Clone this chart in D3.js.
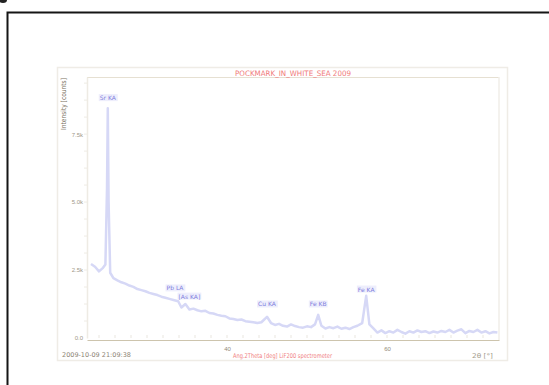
<!DOCTYPE html>
<html>
<head>
<meta charset="utf-8">
<script src="https://cdn.jsdelivr.net/npm/d3@7"></script>
<style>
  html, body { margin: 0; padding: 0; background: #fff; }
  svg { display: block; font-family: "DejaVu Sans", sans-serif; }
</style>
</head>
<body>
<svg id="chart" width="549" height="385"></svg>
<script>
// 2-theta positions (deg) and intensities (kcounts)
const twoTheta = [23.0, 23.5, 24.0, 24.5, 24.8, 25.0, 25.1, 25.2, 25.4, 25.8, 26.3, 26.8, 27.3, 27.8, 28.3, 28.8,
  29.3, 29.8, 30.3, 30.8, 31.3, 31.8, 32.3, 32.8, 33.3, 33.9, 34.3, 34.8, 35.3, 35.8, 36.3, 36.8,
  37.3, 37.8, 38.3, 38.8, 39.3, 39.8, 40.3, 40.8, 41.3, 41.8, 42.3, 42.8, 43.3, 43.8, 44.3, 45.0,
  45.5, 46.0, 46.5, 47.0, 47.5, 48.0, 48.5, 49.0, 49.5, 50.0, 50.5, 51.0, 51.4, 51.8, 52.3, 52.8,
  53.3, 53.8, 54.3, 54.8, 55.3, 55.8, 56.3, 56.9, 57.4, 57.8, 58.3, 58.8, 59.3, 59.8, 60.3, 60.8,
  61.3, 61.8, 62.3, 62.8, 63.3, 63.8, 64.3, 64.8, 65.3, 65.8, 66.3, 66.8, 67.3, 67.8, 68.3, 68.8,
  69.3, 69.8, 70.3, 70.8, 71.3, 71.8, 72.3, 72.8, 73.3, 73.8];
const counts = [2.72, 2.62, 2.45, 2.58, 2.70, 5.5, 8.45, 5.0, 2.40, 2.20, 2.12, 2.05, 2.00, 1.93, 1.88, 1.80,
  1.76, 1.72, 1.66, 1.62, 1.58, 1.52, 1.48, 1.44, 1.40, 1.35, 1.12, 1.25, 1.05, 1.08, 1.02, 0.98,
  1.00, 0.92, 0.90, 0.85, 0.82, 0.80, 0.72, 0.70, 0.66, 0.68, 0.62, 0.60, 0.58, 0.55, 0.58, 0.78,
  0.55, 0.48, 0.52, 0.45, 0.42, 0.50, 0.44, 0.40, 0.38, 0.43, 0.40, 0.50, 0.85, 0.45, 0.35, 0.40,
  0.36, 0.42, 0.34, 0.38, 0.33, 0.40, 0.45, 0.55, 1.55, 0.50, 0.35, 0.20, 0.28, 0.18, 0.25, 0.20,
  0.30, 0.22, 0.16, 0.25, 0.20, 0.28, 0.22, 0.25, 0.18, 0.24, 0.20, 0.26, 0.22, 0.30, 0.20, 0.27,
  0.32, 0.18, 0.26, 0.22, 0.30, 0.20, 0.25, 0.17, 0.22, 0.20];

// peak labels: text, 2theta, level (kcounts) of label
const peakNames = ["Sr KA", "Pb LA", "[As KA]", "Cu KA", "Fe KB", "Fe KA"];
const peakPos = [25.1, 33.5, 35.3, 45.0, 51.4, 57.4];
const peakLevel = [8.75, 1.75, 1.45, 1.16, 1.16, 1.71];

const xTicks = [40, 60];
const yTicks = [0, 2.5, 5, 7.5];
const yTickLabels = ["0.0", "2.5k", "5.0k", "7.5k"];

const titleText = "POCKMARK_IN_WHITE_SEA 2009";
const xTitle = "Ang.2Theta [deg] LiF200 spectrometer";
const yTitle = "Intensity [counts]";
const stamp = "2009-10-09 21:09:38";
const unitText = "2\u03b8 [\u00b0]";

const svg = d3.select('#chart');

// outer black frame and stray mark top-left
svg.append('ellipse').attr('cx', 3).attr('cy', 0).attr('rx', 4).attr('ry', 3).attr('fill', '#222');
svg.append('path').attr('d', 'M7.5,385 V12.5 H549').attr('fill', 'none')
  .attr('stroke', '#151515').attr('stroke-width', 2);

// pale panel
svg.append('rect').attr('x', 57.5).attr('y', 67.5).attr('width', 450).attr('height', 293)
  .attr('fill', 'none').attr('stroke', '#efece6').attr('stroke-width', 1.5);

const x = d3.scaleLinear().domain([22.5, 74]).range([87, 499]);
const y = d3.scaleLinear().domain([0, 9.6]).range([338, 77]);

// plot frame lines
const g = svg.append('g');
g.append('line').attr('x1', 87).attr('x2', 499).attr('y1', 77.5).attr('y2', 77.5)
  .attr('stroke', '#e6e0d2').attr('stroke-width', 1.2);
g.append('line').attr('x1', 499).attr('x2', 499).attr('y1', 77).attr('y2', 340)
  .attr('stroke', '#f1eee8').attr('stroke-width', 1.5);

// minor x ticks
g.selectAll('line.mx').data(d3.range(24, 74, 2)).join('line').attr('class', 'mx')
  .attr('x1', d => x(d)).attr('x2', d => x(d)).attr('y1', 335).attr('y2', 338)
  .attr('stroke', '#e9e6df');

// y minor ticks
g.selectAll('line.my').data(d3.range(0.625, 9.6, 0.625)).join('line').attr('class', 'my')
  .attr('x1', 84).attr('x2', 87).attr('y1', d => y(d)).attr('y2', d => y(d))
  .attr('stroke', '#eeebe4');

// axes
const xAxis = d3.axisBottom(x).tickValues(xTicks).tickSize(0).tickPadding(7).tickFormat(d3.format('d'));
const gx = svg.append('g').attr('transform', 'translate(0,340)').call(xAxis);
gx.select('.domain').attr('stroke', '#cdc4ad').attr('stroke-width', 1.2);
gx.selectAll('text').attr('fill', '#8f8878').style('font-size', '6px');

const yAxis = d3.axisLeft(y).tickValues(yTicks).tickSize(0).tickPadding(4)
  .tickFormat((d, i) => yTickLabels[i]);
const gy = svg.append('g').attr('transform', 'translate(87,0)').call(yAxis);
gy.select('.domain').attr('stroke', '#eeebe4').attr('stroke-width', 1.5);
gy.selectAll('text').attr('fill', '#a09888').style('font-size', '6px');

// spectrum
const line = d3.line().x((d, i) => x(twoTheta[i])).y(d => y(d));
svg.append('path').datum(counts).attr('d', line).attr('fill', 'none')
  .attr('stroke', '#d6d8f6').attr('stroke-width', 2.5).attr('stroke-linejoin', 'round');

// peak labels with pale highlight
const lab = svg.selectAll('g.peak').data(peakNames).join('g').attr('class', 'peak')
  .attr('transform', (d, i) => `translate(${x(peakPos[i])},${y(peakLevel[i])})`);
lab.append('text').attr('text-anchor', 'middle').attr('fill', '#7f80dc').style('font-size', '6px')
  .text(d => d);
lab.each(function () {
  const t = d3.select(this).select('text');
  const b = t.node().getBBox();
  d3.select(this).insert('rect', 'text').attr('x', b.x - 1).attr('y', b.y)
    .attr('width', b.width + 2).attr('height', b.height).attr('fill', '#eeeefc');
});

// texts
svg.append('text').attr('x', 235).attr('y', 76).attr('textLength', 116)
  .attr('lengthAdjust', 'spacingAndGlyphs').attr('fill', '#f07a7a').style('font-size', '7.5px')
  .text(titleText);
svg.append('text').attr('x', 233).attr('y', 358).attr('textLength', 99)
  .attr('lengthAdjust', 'spacingAndGlyphs').attr('fill', '#f08080').style('font-size', '6.5px')
  .text(xTitle);
svg.append('text').attr('x', 62).attr('y', 357).attr('textLength', 69)
  .attr('lengthAdjust', 'spacingAndGlyphs').attr('fill', '#8c8474').style('font-size', '6.5px')
  .text(stamp);
svg.append('text').attr('x', 472).attr('y', 358).attr('textLength', 21)
  .attr('lengthAdjust', 'spacingAndGlyphs').attr('fill', '#a49c8c').style('font-size', '6.5px')
  .text(unitText);
svg.append('text').attr('transform', 'translate(66,130) rotate(-90)').attr('textLength', 52)
  .attr('lengthAdjust', 'spacingAndGlyphs').attr('fill', '#7a7262').style('font-size', '7px')
  .text(yTitle);
</script>
</body>
</html>
